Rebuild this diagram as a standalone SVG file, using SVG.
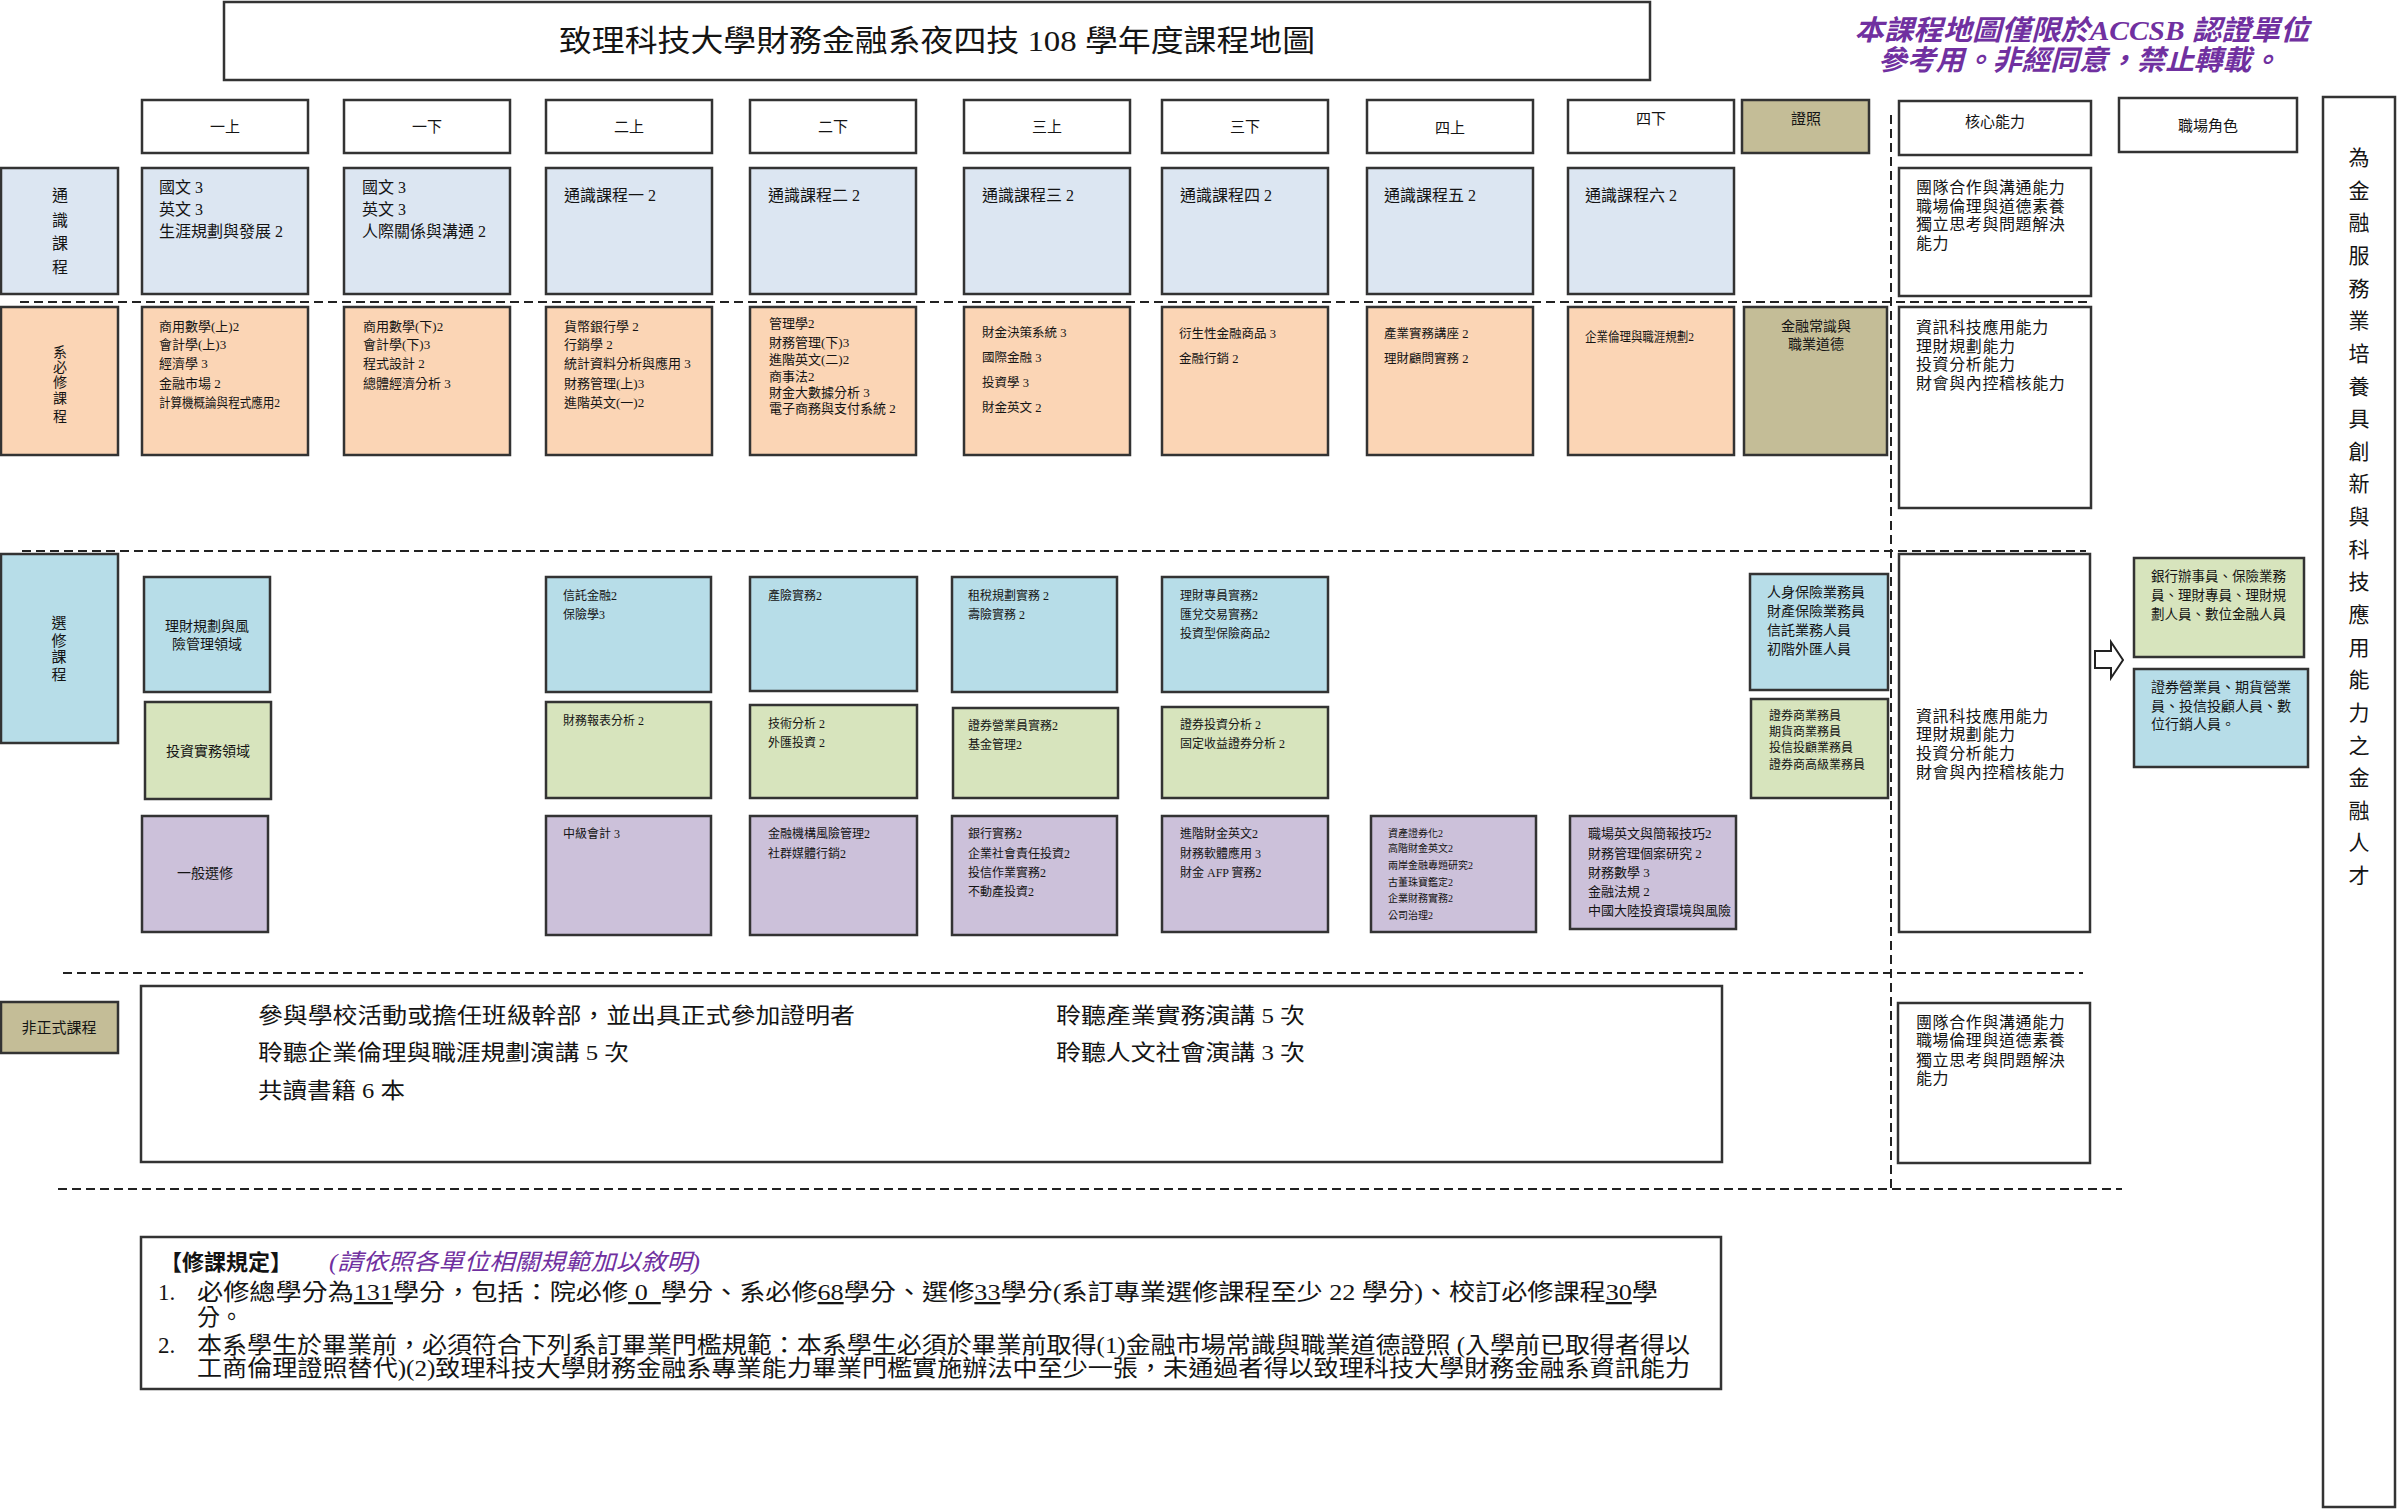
<svg xmlns="http://www.w3.org/2000/svg" width="2401" height="1509" viewBox="0 0 2401 1509">
<style>
text{font-family:'Liberation Serif','Noto Sans CJK TC',serif;fill:#141414}
.bx{stroke:#333;stroke-width:2.5}
.w{fill:#fff}
.gen{fill:#DCE6F2}
.req{fill:#FBD5B5}
.bl{fill:#B7DDE8}
.gr{fill:#D7E4BD}
.pu{fill:#CCC1DA}
.tan{fill:#C4BD97}
.dash{stroke:#222;stroke-width:2;stroke-dasharray:9 5;fill:none}
.hd{font-size:15px;text-anchor:middle}
.f16{font-size:16px}
.f14{font-size:14px}
.f13{font-size:13px}
.f125{font-size:12.5px}
.f12{font-size:12px}
.f10{font-size:10px}
.core{font-size:16px;letter-spacing:0.6px}
.mid{text-anchor:middle}
.note{font-size:28px;font-style:italic;font-weight:bold;fill:#7030A0;text-anchor:middle}
.inf{font-size:22px}
.rule{font-size:23px}
</style>
<rect width="2401" height="1509" fill="#fff"/>

<g id="title">
<rect x="224" y="2" width="1426" height="78" class="bx w"/>
<text x="937" y="51" text-anchor="middle" font-size="30" textLength="756" lengthAdjust="spacingAndGlyphs">致理科技大學財務金融系夜四技 108 學年度課程地圖</text>
</g>
<g id="notice">
<text x="2082" y="40" class="note" textLength="455" lengthAdjust="spacingAndGlyphs">本課程地圖僅限於ACCSB 認證單位</text>
<text x="2079" y="70" class="note" textLength="402" lengthAdjust="spacingAndGlyphs">參考用。非經同意，禁止轉載。</text>
</g>

<g id="separators">
<line x1="20" y1="302" x2="2088" y2="302" class="dash"/>
<line x1="22" y1="551" x2="2086" y2="551" class="dash"/>
<line x1="63" y1="973" x2="2083" y2="973" class="dash"/>
<line x1="58" y1="1189" x2="2122" y2="1189" class="dash"/>
<line x1="1891" y1="115" x2="1891" y2="1189" class="dash"/>
</g>

<g id="headers">
<g id="hd-1a"><rect x="142" y="100" width="166" height="53" class="bx w"/><text x="225" y="132" class="hd">一上</text></g>
<g id="hd-1b"><rect x="344" y="100" width="166" height="53" class="bx w"/><text x="427" y="132" class="hd">一下</text></g>
<g id="hd-2a"><rect x="546" y="100" width="166" height="53" class="bx w"/><text x="629" y="132" class="hd">二上</text></g>
<g id="hd-2b"><rect x="750" y="100" width="166" height="53" class="bx w"/><text x="833" y="132" class="hd">二下</text></g>
<g id="hd-3a"><rect x="964" y="100" width="166" height="53" class="bx w"/><text x="1047" y="132" class="hd">三上</text></g>
<g id="hd-3b"><rect x="1162" y="100" width="166" height="53" class="bx w"/><text x="1245" y="132" class="hd">三下</text></g>
<g id="hd-4a"><rect x="1367" y="100" width="166" height="53" class="bx w"/><text x="1450" y="133" class="hd">四上</text></g>
<g id="hd-4b"><rect x="1568" y="100" width="166" height="53" class="bx w"/><text x="1651" y="124" class="hd">四下</text></g>
<g id="hd-cert"><rect x="1742" y="100" width="127" height="53" class="bx tan"/><text x="1806" y="124" class="hd">證照</text></g>
<g id="hd-core"><rect x="1899" y="101" width="192" height="54" class="bx w"/><text x="1995" y="127" class="hd">核心能力</text></g>
<g id="hd-role"><rect x="2119" y="98" width="178" height="54" class="bx w"/><text x="2208" y="131" class="hd">職場角色</text></g>
</g>

<g id="goal">
<rect x="2323" y="97" width="72" height="1410" class="bx w"/>
<text font-size="21" text-anchor="middle" x="2359 2359 2359 2359 2359 2359 2359 2359 2359 2359 2359 2359 2359 2359 2359 2359 2359 2359 2359 2359 2359 2359 2359" y="165 198 230 263 296 328 361 394 426 459 491 524 557 589 622 655 687 720 753 785 818 850 883">為金融服務業培養具創新與科技應用能力之金融人才</text>
</g>

<g id="row-general">
<g id="lbl-general"><rect x="1" y="168" width="117" height="126" class="bx gen"/><text x="60 60 60 60" y="201 226 249 273" class="f16 mid">通識課程</text></g>
<g id="gen-1a"><rect x="142" y="168" width="166" height="126" class="bx gen"/><text class="f16"><tspan x="159" y="193">國文 3</tspan><tspan x="159" y="215">英文 3</tspan><tspan x="159" y="237">生涯規劃與發展 2</tspan></text></g>
<g id="gen-1b"><rect x="344" y="168" width="166" height="126" class="bx gen"/><text class="f16"><tspan x="362" y="193">國文 3</tspan><tspan x="362" y="215">英文 3</tspan><tspan x="362" y="237">人際關係與溝通 2</tspan></text></g>
<g id="gen-2a"><rect x="546" y="168" width="166" height="126" class="bx gen"/><text x="564" y="201" class="f16">通識課程一 2</text></g>
<g id="gen-2b"><rect x="750" y="168" width="166" height="126" class="bx gen"/><text x="768" y="201" class="f16">通識課程二 2</text></g>
<g id="gen-3a"><rect x="964" y="168" width="166" height="126" class="bx gen"/><text x="982" y="201" class="f16">通識課程三 2</text></g>
<g id="gen-3b"><rect x="1162" y="168" width="166" height="126" class="bx gen"/><text x="1180" y="201" class="f16">通識課程四 2</text></g>
<g id="gen-4a"><rect x="1367" y="168" width="166" height="126" class="bx gen"/><text x="1384" y="201" class="f16">通識課程五 2</text></g>
<g id="gen-4b"><rect x="1568" y="168" width="166" height="126" class="bx gen"/><text x="1585" y="201" class="f16">通識課程六 2</text></g>
<g id="core-general"><rect x="1899" y="168" width="192" height="128" class="bx w"/><text class="core"><tspan x="1916" y="193">團隊合作與溝通能力</tspan><tspan x="1916" y="212">職場倫理與道德素養</tspan><tspan x="1916" y="230">獨立思考與問題解決</tspan><tspan x="1916" y="249">能力</tspan></text></g>
</g>

<g id="row-required">
<g id="lbl-required"><rect x="1" y="307" width="117" height="148" class="bx req"/><text x="60 60 60 60 60" y="357 372 387 403 421" class="f14 mid">系必修課程</text></g>
<g id="req-1a"><rect x="142" y="307" width="166" height="148" class="bx req"/><text class="f13"><tspan x="159" y="331">商用數學(上)2</tspan><tspan x="159" y="349">會計學(上)3</tspan><tspan x="159" y="368">經濟學 3</tspan><tspan x="159" y="388">金融市場 2</tspan></text><text x="159" y="407" class="f13" textLength="121" lengthAdjust="spacingAndGlyphs">計算機概論與程式應用2</text></g>
<g id="req-1b"><rect x="344" y="307" width="166" height="148" class="bx req"/><text class="f13"><tspan x="363" y="331">商用數學(下)2</tspan><tspan x="363" y="349">會計學(下)3</tspan><tspan x="363" y="368">程式設計 2</tspan><tspan x="363" y="388">總體經濟分析 3</tspan></text></g>
<g id="req-2a"><rect x="546" y="307" width="166" height="148" class="bx req"/><text class="f13"><tspan x="564" y="331">貨幣銀行學 2</tspan><tspan x="564" y="349">行銷學 2</tspan><tspan x="564" y="368">統計資料分析與應用 3</tspan><tspan x="564" y="388">財務管理(上)3</tspan><tspan x="564" y="407">進階英文(一)2</tspan></text></g>
<g id="req-2b"><rect x="750" y="307" width="166" height="148" class="bx req"/><text class="f13"><tspan x="769" y="328">管理學2</tspan><tspan x="769" y="347">財務管理(下)3</tspan><tspan x="769" y="364">進階英文(二)2</tspan><tspan x="769" y="381">商事法2</tspan><tspan x="769" y="397">財金大數據分析 3</tspan><tspan x="769" y="413">電子商務與支付系統 2</tspan></text></g>
<g id="req-3a"><rect x="964" y="307" width="166" height="148" class="bx req"/><text class="f125"><tspan x="982" y="337">財金決策系統 3</tspan><tspan x="982" y="362">國際金融 3</tspan><tspan x="982" y="387">投資學 3</tspan><tspan x="982" y="412">財金英文 2</tspan></text></g>
<g id="req-3b"><rect x="1162" y="307" width="166" height="148" class="bx req"/><text class="f125"><tspan x="1179" y="338">衍生性金融商品 3</tspan><tspan x="1179" y="363">金融行銷 2</tspan></text></g>
<g id="req-4a"><rect x="1367" y="307" width="166" height="148" class="bx req"/><text class="f125"><tspan x="1384" y="338">產業實務講座 2</tspan><tspan x="1384" y="363">理財顧問實務 2</tspan></text></g>
<g id="req-4b"><rect x="1568" y="307" width="166" height="148" class="bx req"/><text x="1585" y="341" class="f13" textLength="109" lengthAdjust="spacingAndGlyphs">企業倫理與職涯規劃2</text></g>
<g id="cert-required"><rect x="1744" y="307" width="143" height="148" class="bx tan"/><text class="f14 mid"><tspan x="1816" y="331">金融常識與</tspan><tspan x="1816" y="349">職業道德</tspan></text></g>
<g id="core-required"><rect x="1899" y="307" width="192" height="201" class="bx w"/><text class="core"><tspan x="1916" y="333">資訊科技應用能力</tspan><tspan x="1916" y="352">理財規劃能力</tspan><tspan x="1916" y="370">投資分析能力</tspan><tspan x="1916" y="389">財會與內控稽核能力</tspan></text></g>
</g>

<g id="row-elective">
<g id="lbl-elective"><rect x="1" y="554" width="117" height="189" class="bx bl"/><text x="59 59 59 59" y="628 646 662 680" class="mid" font-size="15">選修課程</text></g>
<g id="dom-risk"><rect x="144" y="577" width="126" height="115" class="bx bl"/><text class="f14 mid"><tspan x="207" y="631">理財規劃與風</tspan><tspan x="207" y="649">險管理領域</tspan></text></g>
<g id="dom-invest"><rect x="145" y="702" width="126" height="97" class="bx gr"/><text x="208" y="756" class="f14 mid">投資實務領域</text></g>
<g id="dom-general"><rect x="142" y="816" width="126" height="116" class="bx pu"/><text x="205" y="878" class="f14 mid">一般選修</text></g>

<g id="el-2a-b"><rect x="546" y="577" width="165" height="115" class="bx bl"/><text class="f12"><tspan x="563" y="600">信託金融2</tspan><tspan x="563" y="619">保險學3</tspan></text></g>
<g id="el-2a-g"><rect x="546" y="702" width="165" height="96" class="bx gr"/><text x="563" y="725" class="f12">財務報表分析 2</text></g>
<g id="el-2a-p"><rect x="546" y="816" width="165" height="119" class="bx pu"/><text x="563" y="838" class="f12">中級會計 3</text></g>

<g id="el-2b-b"><rect x="750" y="577" width="167" height="114" class="bx bl"/><text x="768" y="600" class="f12">產險實務2</text></g>
<g id="el-2b-g"><rect x="750" y="705" width="167" height="93" class="bx gr"/><text class="f12"><tspan x="768" y="728">技術分析 2</tspan><tspan x="768" y="747">外匯投資 2</tspan></text></g>
<g id="el-2b-p"><rect x="750" y="816" width="167" height="119" class="bx pu"/><text class="f12"><tspan x="768" y="838">金融機構風險管理2</tspan><tspan x="768" y="858">社群媒體行銷2</tspan></text></g>

<g id="el-3a-b"><rect x="952" y="577" width="165" height="115" class="bx bl"/><text class="f12"><tspan x="968" y="600">租稅規劃實務 2</tspan><tspan x="968" y="619">壽險實務 2</tspan></text></g>
<g id="el-3a-g"><rect x="953" y="708" width="165" height="90" class="bx gr"/><text class="f12"><tspan x="968" y="730">證券營業員實務2</tspan><tspan x="968" y="749">基金管理2</tspan></text></g>
<g id="el-3a-p"><rect x="952" y="816" width="165" height="119" class="bx pu"/><text class="f12"><tspan x="968" y="838">銀行實務2</tspan><tspan x="968" y="858">企業社會責任投資2</tspan><tspan x="968" y="877">投信作業實務2</tspan><tspan x="968" y="896">不動產投資2</tspan></text></g>

<g id="el-3b-b"><rect x="1162" y="577" width="166" height="115" class="bx bl"/><text class="f12"><tspan x="1180" y="600">理財專員實務2</tspan><tspan x="1180" y="619">匯兌交易實務2</tspan><tspan x="1180" y="638">投資型保險商品2</tspan></text></g>
<g id="el-3b-g"><rect x="1162" y="707" width="166" height="91" class="bx gr"/><text class="f12"><tspan x="1180" y="729">證券投資分析 2</tspan><tspan x="1180" y="748">固定收益證券分析 2</tspan></text></g>
<g id="el-3b-p"><rect x="1162" y="816" width="166" height="116" class="bx pu"/><text class="f12"><tspan x="1180" y="838">進階財金英文2</tspan><tspan x="1180" y="858">財務軟體應用 3</tspan><tspan x="1180" y="877">財金 AFP 實務2</tspan></text></g>

<g id="el-4a-p"><rect x="1371" y="816" width="165" height="116" class="bx pu"/><text class="f10"><tspan x="1388" y="837">資產證券化2</tspan><tspan x="1388" y="852">高階財金英文2</tspan><tspan x="1388" y="869">兩岸金融專題研究2</tspan><tspan x="1388" y="886">古董珠寶鑑定2</tspan><tspan x="1388" y="902">企業財務實務2</tspan><tspan x="1388" y="919">公司治理2</tspan></text></g>
<g id="el-4b-p"><rect x="1570" y="816" width="166" height="113" class="bx pu"/><text class="f13"><tspan x="1588" y="838">職場英文與簡報技巧2</tspan><tspan x="1588" y="858">財務管理個案研究 2</tspan><tspan x="1588" y="877">財務數學 3</tspan><tspan x="1588" y="896">金融法規 2</tspan><tspan x="1588" y="915">中國大陸投資環境與風險</tspan></text></g>

<g id="cert-risk"><rect x="1750" y="574" width="138" height="116" class="bx bl"/><text class="f14"><tspan x="1767" y="597">人身保險業務員</tspan><tspan x="1767" y="616">財產保險業務員</tspan><tspan x="1767" y="635">信託業務人員</tspan><tspan x="1767" y="654">初階外匯人員</tspan></text></g>
<g id="cert-invest"><rect x="1751" y="699" width="137" height="99" class="bx gr"/><text class="f12"><tspan x="1769" y="720">證券商業務員</tspan><tspan x="1769" y="736">期貨商業務員</tspan><tspan x="1769" y="752">投信投顧業務員</tspan><tspan x="1769" y="769">證券商高級業務員</tspan></text></g>

<g id="core-elective"><rect x="1899" y="554" width="191" height="378" class="bx w"/><text class="core"><tspan x="1916" y="722">資訊科技應用能力</tspan><tspan x="1916" y="740">理財規劃能力</tspan><tspan x="1916" y="759">投資分析能力</tspan><tspan x="1916" y="778">財會與內控稽核能力</tspan></text></g>

<g id="role-bank"><rect x="2134" y="558" width="170" height="99" class="bx gr"/><text font-size="13.5"><tspan x="2151" y="581">銀行辦事員、保險業務</tspan><tspan x="2151" y="600">員、理財專員、理財規</tspan><tspan x="2151" y="619">劃人員、數位金融人員</tspan></text></g>
<g id="role-sec"><rect x="2134" y="669" width="174" height="98" class="bx bl"/><text class="f14"><tspan x="2151" y="692">證券營業員、期貨營業</tspan><tspan x="2151" y="711">員、投信投顧人員、數</tspan><tspan x="2151" y="729">位行銷人員。</tspan></text></g>
</g>

<g id="connectors">
<polygon points="2095,651 2111,651 2111,642 2123,660 2111,678 2111,668 2095,668" fill="#fff" stroke="#222" stroke-width="2"/>
</g>

<g id="row-informal">
<g id="lbl-informal"><rect x="1" y="1002" width="117" height="51" class="bx tan"/><text x="59" y="1033" font-size="15" class="mid">非正式課程</text></g>
<g id="informal"><rect x="141" y="986" width="1581" height="176" class="bx w"/>
<text x="258" y="1023" class="inf" textLength="597" lengthAdjust="spacingAndGlyphs">參與學校活動或擔任班級幹部，並出具正式參加證明者</text>
<text x="258" y="1060" class="inf" textLength="371" lengthAdjust="spacingAndGlyphs">聆聽企業倫理與職涯規劃演講 5 次</text>
<text x="258" y="1098" class="inf" textLength="147" lengthAdjust="spacingAndGlyphs">共讀書籍 6 本</text>
<text x="1056" y="1023" class="inf" textLength="249" lengthAdjust="spacingAndGlyphs">聆聽產業實務演講 5 次</text>
<text x="1056" y="1060" class="inf" textLength="249" lengthAdjust="spacingAndGlyphs">聆聽人文社會演講 3 次</text>
</g>
<g id="core-informal"><rect x="1898" y="1003" width="192" height="160" class="bx w"/><text class="core"><tspan x="1916" y="1028">團隊合作與溝通能力</tspan><tspan x="1916" y="1046">職場倫理與道德素養</tspan><tspan x="1916" y="1066">獨立思考與問題解決</tspan><tspan x="1916" y="1084">能力</tspan></text></g>
</g>

<g id="rules">
<rect x="141" y="1237" width="1580" height="152" class="bx w"/>
<text x="160" y="1270" font-size="22" font-weight="bold">【修課規定】</text>
<text x="329" y="1270" font-size="23" font-style="italic" fill="#7030A0" style="fill:#7030A0" textLength="371" lengthAdjust="spacingAndGlyphs">(請依照各單位相關規範加以敘明)</text>
<text x="158" y="1300" class="rule">1.</text>
<text x="197" y="1300" class="rule" textLength="1461" lengthAdjust="spacingAndGlyphs">必修總學分為<tspan text-decoration="underline">131</tspan>學分，包括：院必修<tspan text-decoration="underline">&#160;0&#160;&#160;</tspan>學分、系必修<tspan text-decoration="underline">68</tspan>學分、選修<tspan text-decoration="underline">33</tspan>學分(系訂專業選修課程至少 22 學分)、校訂必修課程<tspan text-decoration="underline">30</tspan>學</text>
<text x="197" y="1325" class="rule">分。</text>
<text x="158" y="1353" class="rule">2.</text>
<text x="197" y="1353" class="rule" textLength="1493" lengthAdjust="spacingAndGlyphs">本系學生於畢業前，必須符合下列系訂畢業門檻規範：本系學生必須於畢業前取得(1)金融市場常識與職業道德證照 (入學前已取得者得以</text>
<text x="197" y="1376" class="rule" textLength="1493" lengthAdjust="spacingAndGlyphs">工商倫理證照替代)(2)致理科技大學財務金融系專業能力畢業門檻實施辦法中至少一張，未通過者得以致理科技大學財務金融系資訊能力</text>
</g>
</svg>
